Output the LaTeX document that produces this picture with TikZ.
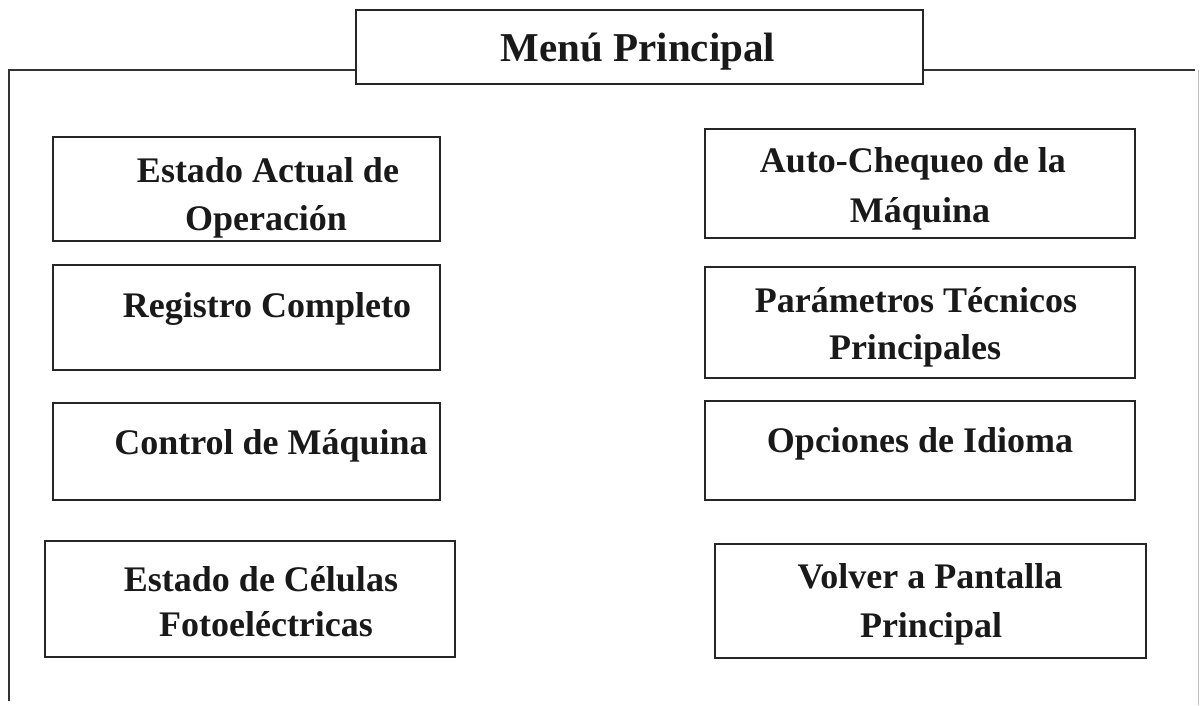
\documentclass[tikz,border=0pt]{standalone}
\usepackage{fontspec}
\setmainfont{Liberation Serif}
\newcommand\bxfont{\fontsize{36}{43}\selectfont\bfseries}
\newcommand\ttlfont{\fontsize{41}{49}\selectfont\bfseries}
\begin{document}
\begin{tikzpicture}[x=1pt,y=-1pt,
  menubox/.style={draw=black!85, line width=2pt, rectangle, inner sep=0pt},
  txt/.style={font=\bxfont, anchor=base, inner sep=0pt, text=black!90},
  frameline/.style={draw=black!80, line width=1.5pt},
  faint/.style={draw=black!25, line width=1pt}]
\useasboundingbox (0,0) rectangle (1200,705);
% title
\node[menubox, minimum width=567pt, minimum height=74pt] (title) at (639.5,47) {};
\node[font=\ttlfont, anchor=base, inner sep=0pt, text=black!90] (ttext) at (638,61) {Menú Principal};
% frame
\coordinate (fl) at (9,70);
\coordinate (fb) at (9,701);
\coordinate (fr) at (1195,70);
\coordinate (rt) at (1198,70);
\coordinate (rb) at (1198,705);
\draw[frameline] (fb) -- (fl) -- (fl -| title.west);
\draw[frameline] (fr -| title.east) -- (fr);
\draw[faint] (rt) -- (rb);
% left column boxes
\node[menubox, minimum width=387pt, minimum height=104pt] (l1) at (246.5,189) {};
\node[menubox, minimum width=387pt, minimum height=105pt] (l2) at (246.5,317.5) {};
\node[menubox, minimum width=387pt, minimum height=97pt] (l3) at (246.5,451.5) {};
\node[menubox, minimum width=410pt, minimum height=116pt] (l4) at (250,599) {};
% right column boxes
\node[menubox, minimum width=430pt, minimum height=109pt] (r1) at (920,183.5) {};
\node[menubox, minimum width=430pt, minimum height=111pt] (r2) at (920,322.5) {};
\node[menubox, minimum width=430pt, minimum height=99pt] (r3) at (920,450.5) {};
\node[menubox, minimum width=431pt, minimum height=114pt] (r4) at (930.5,601) {};
% texts
\node[txt] (l1a) at (268,182) {Estado Actual de};
\node[txt] (l1b) at (266,230) {Operación};
\node[txt] (l2a) at (267,317) {Registro Completo};
\node[txt] (l3a) at (271,454) {Control de Máquina};
\node[txt] (l4a) at (261,591) {Estado de Células};
\node[txt] (l4b) at (266,636) {Fotoeléctricas};
\node[txt] (r1a) at (913,172) {Auto-Chequeo de la};
\node[txt] (r1b) at (920,222) {Máquina};
\node[txt] (r2a) at (916,312) {Parámetros Técnicos};
\node[txt] (r2b) at (915,359) {Principales};
\node[txt] (r3a) at (920,452) {Opciones de Idioma};
\node[txt] (r4a) at (930,588) {Volver a Pantalla};
\node[txt] (r4b) at (931,637) {Principal};
\end{tikzpicture}
\end{document}
